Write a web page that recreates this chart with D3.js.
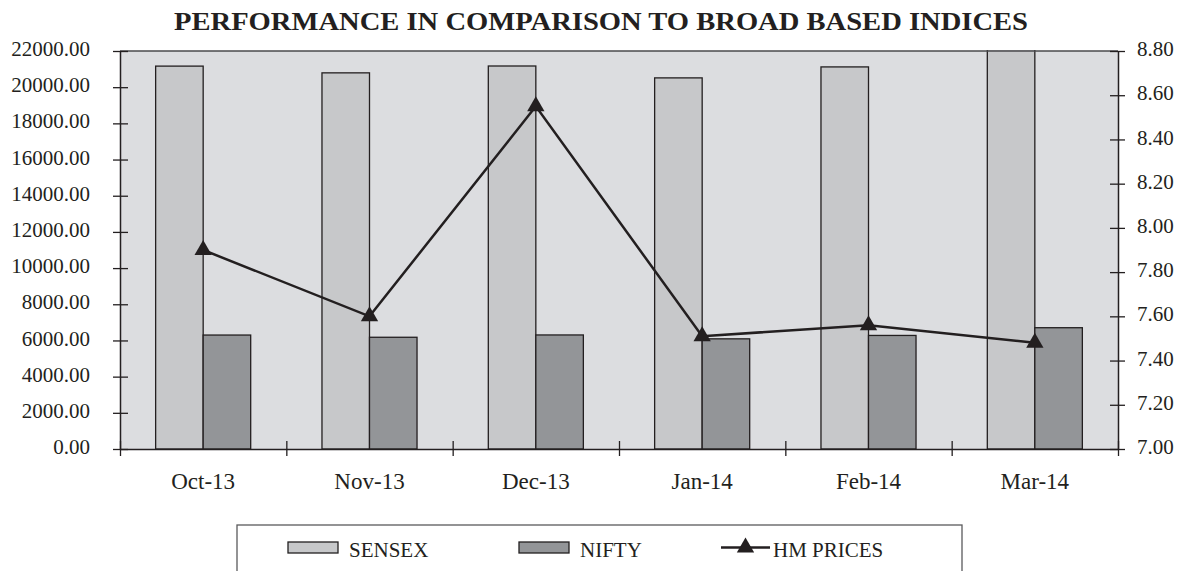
<!DOCTYPE html>
<html>
<head>
<meta charset="utf-8">
<script src="https://cdn.jsdelivr.net/npm/d3@7"></script>
<style>
  body { margin: 0; background: #fff; }
  text { font-family: "Liberation Serif", "DejaVu Serif", serif; fill: #231f20; }
</style>
</head>
<body>
<div id="chart-area"></div>
<script>
// data
const months = ["Oct-13", "Nov-13", "Dec-13", "Jan-14", "Feb-14", "Mar-14"]
const sensex = [21164.52, 20791.93, 21170.68, 20513.85, 21120.12, 22386.27]
const nifty = [6299.15, 6176.10, 6304.00, 6089.50, 6276.95, 6704.20]
const hmPrices = [7.90, 7.60, 8.55, 7.51, 7.56, 7.48]
const leftTicks = [0, 2000, 4000, 6000, 8000, 10000, 12000, 14000, 16000, 18000, 20000, 22000]
const rightTicks = [7.0, 7.2, 7.4, 7.6, 7.8, 8.0, 8.2, 8.4, 8.6, 8.8]
const seriesNames = ["SENSEX", "NIFTY"]

const W = 1177, H = 571
const PLOT = { LEFT: 120, RIGHT: 1118, TOP: 51, BOTTOM: 449 }
const INK = "#231f20"
const COLORS = { SENSEX: "#c7c8ca", NIFTY: "#939598" }

const svg = d3.select("#chart-area").append("svg")
  .attr("width", W)
  .attr("height", H)

// title
svg.append("text")
  .attr("x", 601)
  .attr("y", 30)
  .attr("text-anchor", "middle")
  .attr("font-size", "26px")
  .attr("font-weight", "bold")
  .attr("textLength", 854)
  .attr("lengthAdjust", "spacingAndGlyphs")
  .text("PERFORMANCE IN COMPARISON TO BROAD BASED INDICES")

// scales
const x0 = d3.scaleBand()
  .domain(months)
  .range([PLOT.LEFT, PLOT.RIGHT])
  .paddingInner(0)
  .paddingOuter(0)

const x1 = d3.scaleBand()
  .domain(seriesNames)
  .range([0, x0.bandwidth()])
  .paddingInner(0)
  .paddingOuter(0.75)

const yL = d3.scaleLinear().domain([0, 22000]).range([PLOT.BOTTOM, PLOT.TOP])
const yR = d3.scaleLinear().domain([7.0, 8.8]).range([PLOT.BOTTOM, PLOT.TOP])

// plot background
svg.append("rect")
  .attr("x", PLOT.LEFT).attr("y", PLOT.TOP)
  .attr("width", PLOT.RIGHT - PLOT.LEFT)
  .attr("height", PLOT.BOTTOM - PLOT.TOP)
  .attr("fill", "#dcdde0")

svg.append("clipPath").attr("id", "plot-clip")
  .append("rect")
  .attr("x", PLOT.LEFT).attr("y", PLOT.TOP - 1)
  .attr("width", PLOT.RIGHT - PLOT.LEFT)
  .attr("height", PLOT.BOTTOM - PLOT.TOP + 1)

// bars
const table = months.map((m, i) => ({ month: m, SENSEX: sensex[i], NIFTY: nifty[i] }))
const bars = svg.append("g").attr("clip-path", "url(#plot-clip)")
bars.selectAll("g")
  .data(table)
  .enter().append("g")
    .attr("transform", d => `translate(${x0(d.month)},0)`)
  .selectAll("rect")
  .data(d => seriesNames.map(k => ({ key: k, value: d[k] })))
  .enter().append("rect")
    .attr("x", d => x1(d.key))
    .attr("y", d => yL(d.value))
    .attr("width", x1.bandwidth())
    .attr("height", d => PLOT.BOTTOM - yL(d.value))
    .attr("fill", d => COLORS[d.key])
    .attr("stroke", INK)
    .attr("stroke-width", 1.3)

// top border
svg.append("line")
  .attr("x1", PLOT.LEFT).attr("x2", PLOT.RIGHT)
  .attr("y1", PLOT.TOP).attr("y2", PLOT.TOP)
  .attr("stroke", "#4a4a4c").attr("stroke-width", 1.5)

// left axis
const leftAxis = svg.append("g")
  .attr("transform", `translate(${PLOT.LEFT},0)`)
  .call(d3.axisLeft(yL).tickValues(leftTicks).tickFormat(d3.format(".2f")).tickSize(7).tickSizeOuter(0))
leftAxis.select(".domain").attr("stroke", INK).attr("stroke-width", 1.5)
leftAxis.selectAll(".tick line").attr("x1", 8).attr("x2", -7).attr("stroke", INK).attr("stroke-width", 1.3)
leftAxis.selectAll(".tick text")
  .attr("x", -30).attr("dy", "0.22em")
  .attr("font-size", "21px")
  .attr("font-family", "Liberation Serif").attr("fill", INK)

// right axis
const rightAxis = svg.append("g")
  .attr("transform", `translate(${PLOT.RIGHT},0)`)
  .call(d3.axisRight(yR).tickValues(rightTicks).tickFormat(d3.format(".2f")).tickSize(7).tickSizeOuter(0))
rightAxis.select(".domain").attr("stroke", INK).attr("stroke-width", 1.5)
rightAxis.selectAll(".tick line").attr("x1", -8).attr("x2", 7).attr("stroke", INK).attr("stroke-width", 1.3)
rightAxis.selectAll(".tick text")
  .attr("x", 19).attr("dy", "0.22em")
  .attr("font-size", "21px")
  .attr("font-family", "Liberation Serif").attr("fill", INK)

// bottom axis: boundary ticks + month labels
const xb = d3.scaleLinear().domain([0, months.length]).range([PLOT.LEFT, PLOT.RIGHT])
const bottomAxis = svg.append("g")
  .attr("transform", `translate(0,${PLOT.BOTTOM})`)
  .call(d3.axisBottom(xb).ticks(months.length).tickFormat("").tickSize(7).tickSizeOuter(0))
bottomAxis.select(".domain").attr("stroke", INK).attr("stroke-width", 1.5)
bottomAxis.selectAll(".tick line").attr("y1", -8).attr("y2", 7).attr("stroke", INK).attr("stroke-width", 1.3)

svg.append("g").selectAll("text")
  .data(months)
  .enter().append("text")
    .attr("x", d => x0(d) + x0.bandwidth() / 2)
    .attr("y", 489)
    .attr("text-anchor", "middle")
    .attr("font-size", "23px")
    .text(d => d)

// HM prices line
const cx = i => x0(months[i]) + x0.bandwidth() / 2
const line = d3.line()
  .x((d, i) => cx(i))
  .y(d => yR(d))
svg.append("path")
  .datum(hmPrices)
  .attr("d", line)
  .attr("fill", "none")
  .attr("stroke", INK)
  .attr("stroke-width", 2.5)

const tri = d3.symbol().type(d3.symbolTriangle).size(130)
svg.append("g").selectAll("path")
  .data(hmPrices)
  .enter().append("path")
    .attr("d", tri)
    .attr("transform", (d, i) => `translate(${cx(i)},${yR(d)})`)
    .attr("fill", INK)

// legend
svg.append("rect")
  .attr("x", 237).attr("y", 525)
  .attr("width", 725).attr("height", 80)
  .attr("fill", "#fff")
  .attr("stroke", "#5a5a5c").attr("stroke-width", 1.3)

const legend = svg.append("g")
const legendItems = [
  { name: "SENSEX", x: 288 },
  { name: "NIFTY", x: 519 }
]
legendItems.forEach(item => {
  legend.append("rect")
    .attr("x", item.x).attr("y", 542)
    .attr("width", 50).attr("height", 11)
    .attr("fill", COLORS[item.name])
    .attr("stroke", INK).attr("stroke-width", 1.3)
  legend.append("text")
    .attr("x", item.x + 61).attr("y", 557)
    .attr("font-size", "21px")
    .text(item.name)
})
legend.append("line")
  .attr("x1", 721).attr("x2", 770)
  .attr("y1", 547.5).attr("y2", 547.5)
  .attr("stroke", INK).attr("stroke-width", 2.5)
legend.append("path")
  .attr("d", tri)
  .attr("transform", "translate(745.5,547.5)")
  .attr("fill", INK)
legend.append("text")
  .attr("x", 773).attr("y", 557)
  .attr("font-size", "21px")
  .text("HM PRICES")
</script>
</body>
</html>
